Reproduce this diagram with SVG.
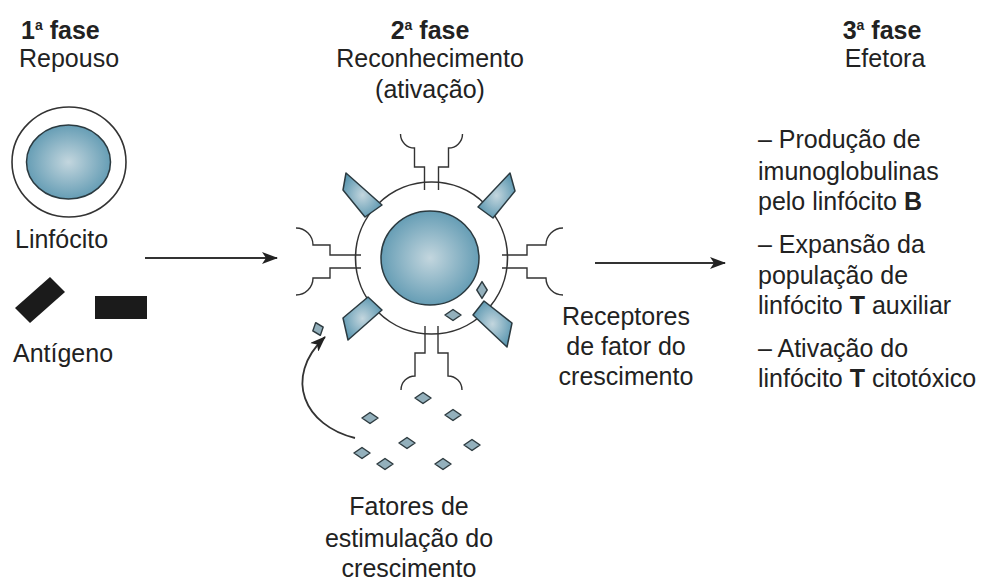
<svg xmlns="http://www.w3.org/2000/svg" width="984" height="583" viewBox="0 0 984 583">
  <style>
    text { font-family: "Liberation Sans", Arial, sans-serif; font-size: 25px; fill: #222; }
    .b { font-weight: bold; }
    .sup { font-size: 14px; }
    .mid { text-anchor: middle; }
    .line { fill: none; stroke: #333; stroke-width: 1.6; }
    .thin { fill: none; stroke: #333; stroke-width: 1.4; }
    .blue { fill: url(#bluefill); stroke: #2b3a40; stroke-width: 1.5; stroke-linejoin: round; }
    .dm { fill: #93b0bc; stroke: #2e3b40; stroke-width: 1.5; stroke-linejoin: round; }
    .arrow { fill: none; stroke: #333; stroke-width: 1.8; marker-end: url(#head); }
  </style>
  <defs>
    <radialGradient id="bluefill" cx="0.5" cy="0.5" r="0.55">
      <stop offset="0" stop-color="#c3d6de"/>
      <stop offset="1" stop-color="#5d98b1"/>
    </radialGradient>
    <marker id="head" viewBox="0 0 16 12" refX="15" refY="6" markerWidth="16" markerHeight="12" markerUnits="userSpaceOnUse" orient="auto">
      <path d="M0,0 L16,6 L0,12 L4,6 Z" fill="#222"/>
    </marker>
    <path id="dm" d="M-8,0 L0,-5.5 L8,0 L0,5.5 Z"/>
  </defs>

  <!-- headers -->
  <g id="headers">
    <text class="b" x="21" y="39">1<tspan class="sup" dy="-9">a</tspan><tspan dy="9"> fase</tspan></text>
    <text x="19" y="67">Repouso</text>
    <text class="b mid" x="430" y="39">2<tspan class="sup" dy="-9">a</tspan><tspan dy="9"> fase</tspan></text>
    <text class="mid" x="430" y="67">Reconhecimento</text>
    <text class="mid" x="430" y="98">(ativação)</text>
    <text class="b mid" x="882" y="39">3<tspan class="sup" dy="-9">a</tspan><tspan dy="9"> fase</tspan></text>
    <text class="mid" x="885" y="67">Efetora</text>
  </g>

  <!-- resting lymphocyte -->
  <g id="resting-cell">
    <ellipse cx="69" cy="162" rx="57" ry="55" class="line"/>
    <ellipse cx="68.5" cy="162" rx="42" ry="37" class="blue"/>
    <text x="15" y="248">Linfócito</text>
  </g>

  <!-- antigen -->
  <g id="antigen">
    <polygon points="15,308 50,277 65,292 30,323" fill="#1b1b1b"/>
    <rect x="95" y="296" width="52" height="23" fill="#1b1b1b"/>
    <text x="13" y="362">Antígeno</text>
  </g>

  <!-- activated lymphocyte -->
  <g id="active-cell">
    <circle cx="431.5" cy="258" r="76" class="line" fill="#fff"/>
    <ellipse cx="430" cy="258" rx="49" ry="47" class="blue"/>
    <!-- growth factor receptors -->
    <path class="thin" d="M424.5,190 V167 H414.5 V148 A14,14 0 0 1 400.5,134 M438.5,190 V167 H448.5 V148 A14,14 0 0 0 462.5,134"/>
    <path class="thin" d="M425,326 V353 H415 V376 A14,14 0 0 0 401,390 M438,326 V353 H448 V376 A14,14 0 0 1 462,390"/>
    <path class="thin" d="M361,255 H330 V245 H313 A17,17 0 0 0 296,228 M361,268 H330 V278 H313 A17,17 0 0 1 296,295"/>
    <path class="thin" d="M502,255 H527 V245 H546 A17,17 0 0 1 563,228 M502,268 H527 V278 H546 A17,17 0 0 0 563,295"/>
    <!-- antigen receptors -->
    <polygon class="blue" points="346,173 382,205 365,217 343,190"/>
    <polygon class="blue" points="510,173 515,191 493,218 478,207"/>
    <polygon class="blue" points="368,297 382,310 348,340 343,318"/>
    <polygon class="blue" points="484,301 473,315 507,347 512,323"/>
    <!-- bound factors -->
    <use href="#dm" class="dm" transform="translate(482,290) rotate(90) scale(1.05,0.95)"/>
    <use href="#dm" class="dm" transform="translate(453,315)"/>
  </g>

  <!-- stimulation factors -->
  <g id="factors">
    <use href="#dm" class="dm" transform="translate(318,329) rotate(70) scale(0.85,1)"/>
    <use href="#dm" class="dm" transform="translate(423,398)"/>
    <use href="#dm" class="dm" transform="translate(370,418)"/>
    <use href="#dm" class="dm" transform="translate(453,415)"/>
    <use href="#dm" class="dm" transform="translate(407,443)"/>
    <use href="#dm" class="dm" transform="translate(472,445)"/>
    <use href="#dm" class="dm" transform="translate(362,453)"/>
    <use href="#dm" class="dm" transform="translate(385,464)"/>
    <use href="#dm" class="dm" transform="translate(443,464)"/>
    <text class="mid" x="409" y="515">Fatores de</text>
    <text class="mid" x="409" y="547">estimulação do</text>
    <text class="mid" x="409" y="577">crescimento</text>
  </g>

  <g id="receptor-label">
    <text class="mid" x="626" y="325">Receptores</text>
    <text class="mid" x="626" y="355">de fator do</text>
    <text class="mid" x="626" y="385">crescimento</text>
  </g>

  <!-- effector outcomes -->
  <g id="effects">
    <text x="758" y="148">– Produção de</text>
    <text x="758" y="180">imunoglobulinas</text>
    <text x="758" y="210">pelo linfócito <tspan class="b">B</tspan></text>
    <text x="758" y="253">– Expansão da</text>
    <text x="758" y="284">população de</text>
    <text x="758" y="314">linfócito <tspan class="b">T</tspan> auxiliar</text>
    <text x="758" y="357">– Ativação do</text>
    <text x="758" y="387">linfócito <tspan class="b">T</tspan> citotóxico</text>
  </g>

  <!-- connectors -->
  <g id="connectors">
    <line class="arrow" x1="145" y1="258" x2="277" y2="258"/>
    <line class="arrow" x1="595" y1="263" x2="725" y2="263"/>
    <path class="arrow" stroke-width="1.6" d="M355,438 C305,426 282,378 325,337"/>
  </g>
</svg>
